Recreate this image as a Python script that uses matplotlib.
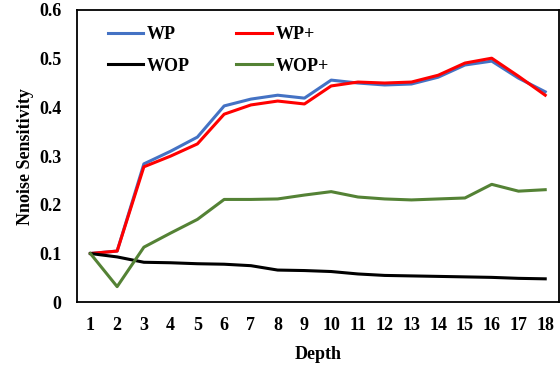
import matplotlib.pyplot as plt

# data
depth = list(range(1, 19))
wp = [0.1, 0.105, 0.284, 0.31, 0.339, 0.403, 0.417, 0.425, 0.419, 0.456,
      0.45, 0.446, 0.448, 0.462, 0.487, 0.495, 0.46, 0.432]
wp_plus = [0.1, 0.105, 0.278, 0.30, 0.325, 0.386, 0.405, 0.413, 0.407, 0.444,
           0.452, 0.45, 0.452, 0.466, 0.491, 0.501, 0.464, 0.425]
wop = [0.1, 0.093, 0.082, 0.081, 0.079, 0.078, 0.075, 0.066, 0.065, 0.063,
       0.058, 0.055, 0.054, 0.053, 0.052, 0.051, 0.049, 0.048]
wop_plus = [0.1, 0.032, 0.113, 0.142, 0.17, 0.211, 0.211, 0.212, 0.22, 0.227,
            0.216, 0.212, 0.21, 0.212, 0.214, 0.242, 0.228, 0.231]

plt.rcParams['font.family'] = ['Liberation Serif', 'DejaVu Serif']
plt.rcParams['font.weight'] = 'bold'

fig = plt.figure(figsize=(5.6, 3.69), dpi=100)
ax = fig.add_axes([0.1375, 0.181, 0.86, 0.792])

ax.plot(depth, wp, color='#4472C4', lw=2.2, label='WP')
ax.plot(depth, wp_plus, color='#FF0000', lw=2.2, label='WP+')
ax.plot(depth, wop, color='#000000', lw=2.2, label='WOP')
ax.plot(depth, wop_plus, color='#548235', lw=2.2, label='WOP+')

ax.set_xlim(0.5, 18.5)
ax.set_ylim(0, 0.6)
ax.set_xticks(depth)
ax.set_yticks([0, 0.1, 0.2, 0.3, 0.4, 0.5, 0.6])
ax.set_yticklabels(['0', '0.1', '0.2', '0.3', '0.4', '0.5', '0.6'])
ax.tick_params(length=0, labelsize=13, pad=11)
for s in ax.spines.values():
    s.set_linewidth(1.3)

ax.set_xlabel('Depth', fontsize=13, fontweight='bold', labelpad=8)
ax.set_ylabel('Nnoise Sensitivity', fontsize=13, fontweight='bold', labelpad=4)

# legend handles in row order: WP, WP+ / WOP, WOP+
h, l = ax.get_legend_handles_labels()
order = [0, 2, 1, 3]
ax.legend([h[i] for i in order], [l[i] for i in order], ncol=2, frameon=False,
          loc='upper left', bbox_to_anchor=(0.03, 1.0), fontsize=13,
          handlelength=1.95, handletextpad=0.2, columnspacing=2.6,
          labelspacing=0.8)

fig.savefig('out.png', dpi=100)
